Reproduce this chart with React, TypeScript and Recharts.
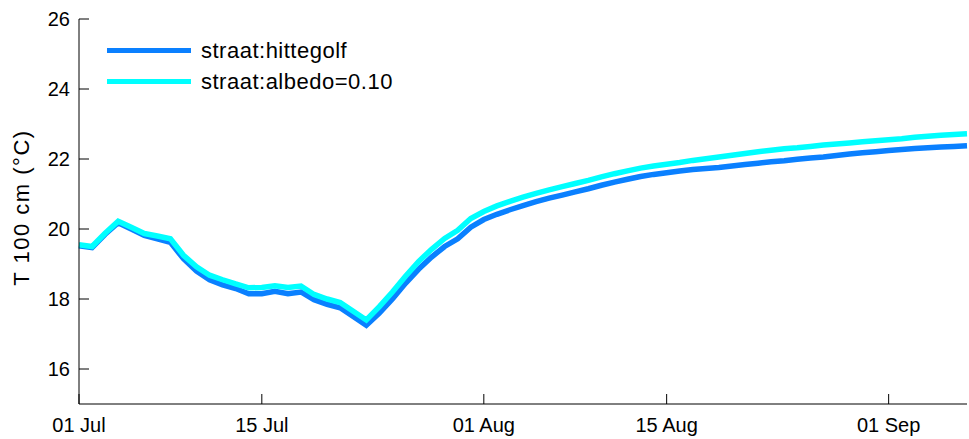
import { Line, LineChart, XAxis, YAxis } from 'recharts'

// day offset from 01 Jul
const days = [
  0, 1, 2, 3, 4, 5, 6, 7, 8, 9, 10, 11, 12, 13, 14, 15, 16, 17, 18, 19, 20, 21, 22, 23, 24, 25, 26, 27, 28, 29, 30, 31, 32, 33, 34,
  35, 36, 37, 38, 39, 40, 41, 42, 43, 44, 45, 46, 47, 48, 49, 50, 51, 52, 53, 54, 55, 56, 57, 58, 59, 60, 61, 62, 63, 64, 65, 66, 67, 68,
]

const hittegolf = [
  19.52, 19.47, 19.85, 20.18, 20.0, 19.82, 19.72, 19.62, 19.15, 18.8, 18.55, 18.4, 18.3, 18.15, 18.15, 18.22, 18.15, 18.2, 17.98, 17.85,
  17.75, 17.5, 17.25, 17.6, 18.0, 18.45, 18.85, 19.2, 19.5, 19.72, 20.05, 20.27, 20.42, 20.55, 20.67, 20.78, 20.88, 20.97, 21.06, 21.15,
  21.25, 21.34, 21.42, 21.5, 21.56, 21.61, 21.66, 21.7, 21.73, 21.76, 21.8, 21.84, 21.88, 21.92, 21.95, 21.99, 22.03, 22.06, 22.1, 22.14,
  22.18, 22.21, 22.24, 22.27, 22.3, 22.32, 22.34, 22.36, 22.38,
]

const albedo = [
  19.55, 19.5, 19.88, 20.22, 20.05, 19.87, 19.8, 19.72, 19.25, 18.92, 18.68, 18.55, 18.43, 18.32, 18.33, 18.38, 18.33, 18.37, 18.13, 18.0,
  17.9, 17.65, 17.4, 17.78, 18.2, 18.65, 19.07, 19.42, 19.73, 19.96, 20.3, 20.5, 20.66, 20.79, 20.91, 21.02, 21.12, 21.21, 21.3, 21.39,
  21.49, 21.58, 21.66, 21.74, 21.8, 21.85, 21.9, 21.96, 22.01, 22.06, 22.11, 22.16, 22.21, 22.25, 22.29, 22.32, 22.36, 22.4, 22.43, 22.46,
  22.49, 22.52, 22.55, 22.58, 22.62, 22.65, 22.68, 22.7, 22.72,
]

const xTicks = [0, 14, 31, 45, 62]
const xTickLabels = ['01 Jul', '15 Jul', '01 Aug', '15 Aug', '01 Sep']
const yTicks = [16, 18, 20, 22, 24, 26]

const seriesNames = ['straat:hittegolf', 'straat:albedo=0.10']
const seriesColors = ['#0a80ff', '#00ffff']

const data = days.map((d, i) => ({ d, hittegolf: hittegolf[i], albedo: albedo[i] }))

const font = '"Liberation Sans", Arial, sans-serif'

function LegendBox() {
  return (
    <div
      style={{
        position: 'absolute',
        left: 107,
        top: 35,
        fontFamily: font,
        fontSize: 22,
        letterSpacing: 0.5,
        color: '#000',
        lineHeight: '31px',
      }}
    >
      {seriesNames.map((name, i) => (
        <div key={name} style={{ display: 'flex', alignItems: 'center', height: 31 }}>
          <div style={{ width: 84, height: 5, background: seriesColors[i], marginRight: 10 }} />
          <span>{name}</span>
        </div>
      ))}
    </div>
  )
}

export default function App() {
  return (
    <div style={{ position: 'relative', width: 969, height: 439, background: '#fff' }}>
      <style>{'body{margin:0}'}</style>
      <LineChart width={969} height={439} data={data} margin={{ top: 19, right: 2, left: 0, bottom: 0 }}>
        <XAxis
          dataKey="d"
          type="number"
          domain={[0, 68]}
          ticks={xTicks}
          tickFormatter={(v: number) => xTickLabels[xTicks.indexOf(v)] ?? ''}
          height={35}
          tickSize={-10}
          tickMargin={24}
          axisLine={{ stroke: '#000' }}
          tickLine={{ stroke: '#000' }}
          tick={{ fill: '#000', fontSize: 20, fontFamily: font }}
          interval={0}
        />
        <XAxis
          xAxisId="top"
          orientation="top"
          dataKey="d"
          type="number"
          domain={[0, 68]}
          height={0}
          tick={false}
          tickLine={false}
          axisLine={{ stroke: '#000' }}
        />
        <YAxis
          type="number"
          domain={[15, 26]}
          ticks={yTicks}
          width={79}
          tickSize={-10}
          tickMargin={19}
          axisLine={{ stroke: '#000' }}
          tickLine={{ stroke: '#000' }}
          tick={{ fill: '#000', fontSize: 20, fontFamily: font }}
          interval={0}
          label={{
            value: 'T 100 cm (°C)',
            angle: -90,
            position: 'insideLeft',
            offset: 21,
            style: { textAnchor: 'middle', fill: '#000', fontSize: 22, letterSpacing: 1.5, fontFamily: font },
            dy: -4,
          }}
        />
        <Line
          dataKey="hittegolf"
          stroke={seriesColors[0]}
          strokeWidth={5.5}
          dot={false}
          type="linear"
          isAnimationActive={false}
        />
        <Line
          dataKey="albedo"
          stroke={seriesColors[1]}
          strokeWidth={5.5}
          dot={false}
          type="linear"
          isAnimationActive={false}
        />
      </LineChart>
      <LegendBox />
    </div>
  )
}
